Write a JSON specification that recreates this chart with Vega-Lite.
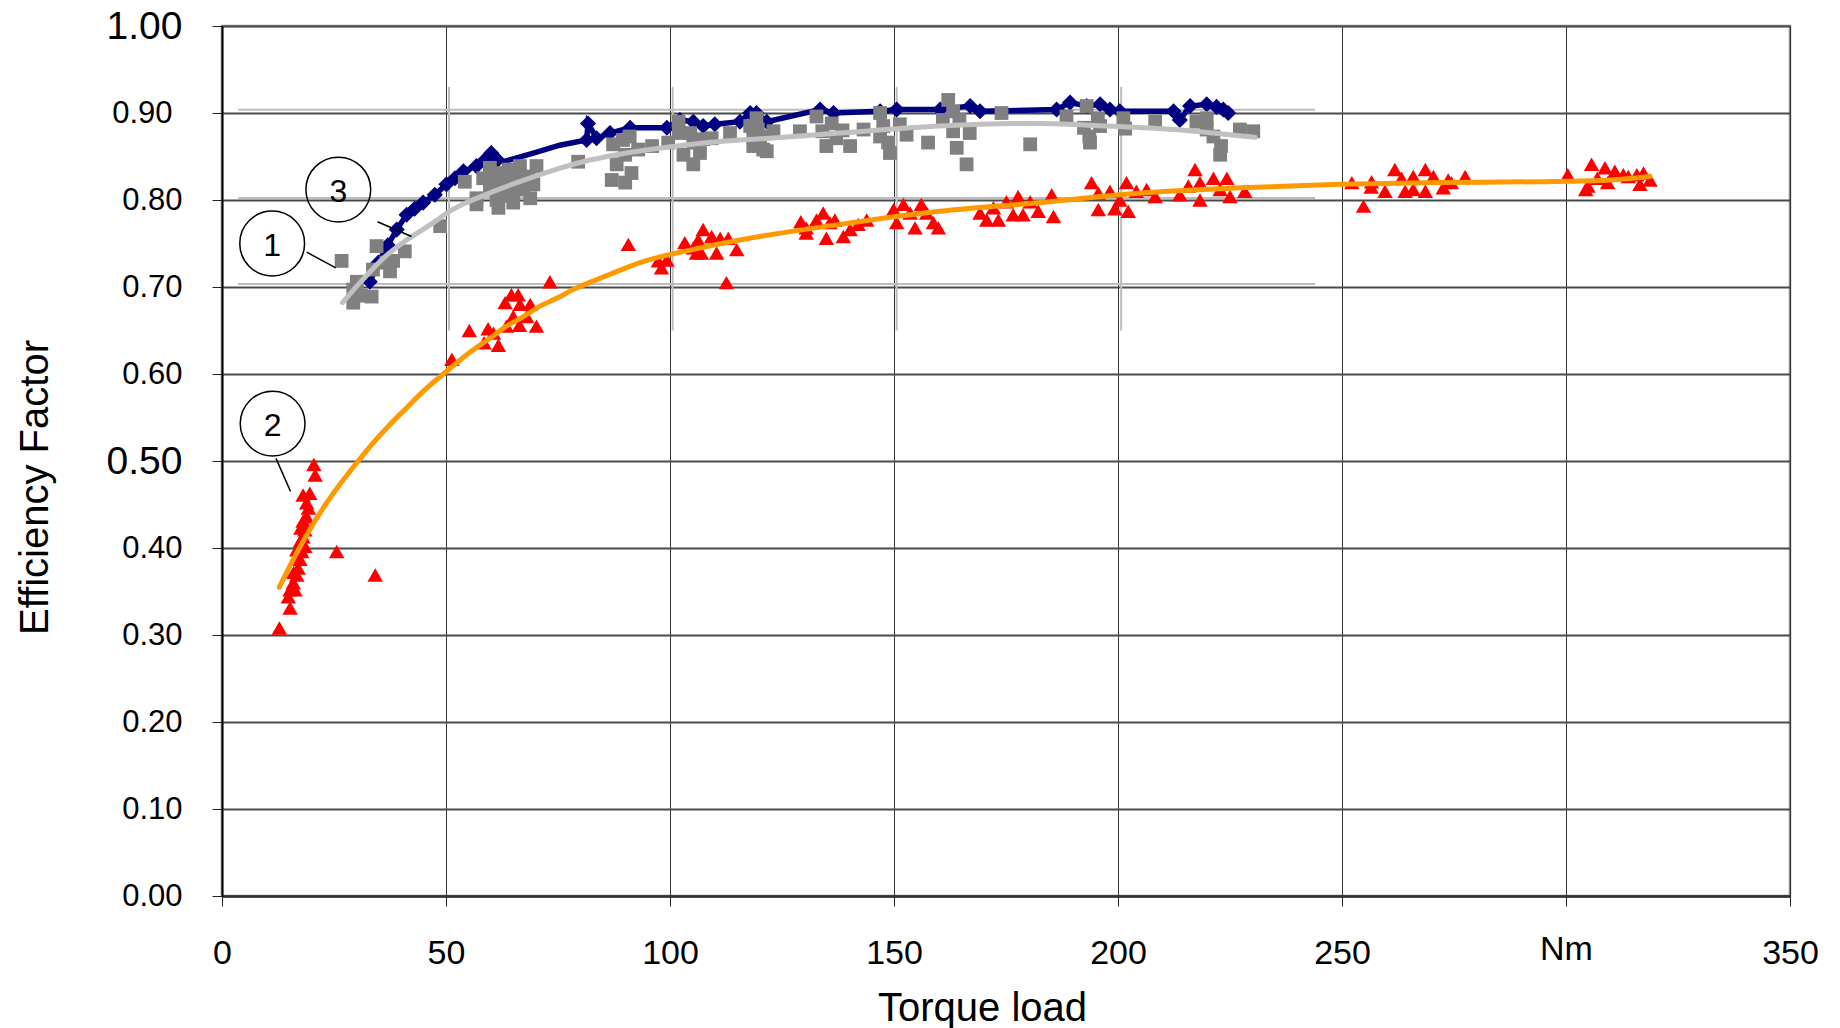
{
  "$schema": "https://vega.github.io/schema/vega-lite/v6.json",
  "width": 1568,
  "height": 870,
  "autosize": {"type": "none"},
  "padding": {"left": 222, "top": 26, "right": 50, "bottom": 132},
  "background": "white",
  "config": {
    "view": {"stroke": "#8a8a8a", "strokeWidth": 2.5},
    "font": "Liberation Sans",
    "axis": {"labelFont": "Liberation Sans", "titleFont": "Liberation Sans", "labelColor": "#000", "titleColor": "#000", "titleFontWeight": "normal", "labelOverlap": false, "labelFlush": false, "labelBound": false}
  },
  "datasets": {
    "faintH": [{"y": 0.9038, "xa": 3.6, "xb": 244}, {"y": 0.8023, "xa": 3.6, "xb": 244}, {"y": 0.7034, "xa": 3.6, "xb": 244}],
    "faintV": [{"x": 50.67, "ya": 0.65, "yb": 0.93}, {"x": 100.6, "ya": 0.65, "yb": 0.93}, {"x": 150.6, "ya": 0.65, "yb": 0.93}, {"x": 200.7, "ya": 0.65, "yb": 0.93}],
    "navyLine": [
      {"x": 33.0, "y": 0.706}, {"x": 34.9, "y": 0.728}, {"x": 37.0, "y": 0.748}, {"x": 39.0, "y": 0.766}, {"x": 41.2, "y": 0.783}, {"x": 43.0, "y": 0.790}, {"x": 44.9, "y": 0.797}, {"x": 47.5, "y": 0.806}, {"x": 50.1, "y": 0.818}, {"x": 52.0, "y": 0.825}, {"x": 53.9, "y": 0.833}, {"x": 56.8, "y": 0.839}, {"x": 58.5, "y": 0.845}, {"x": 60.1, "y": 0.854}, {"x": 61.5, "y": 0.846},
      {"x": 62.8, "y": 0.844}, {"x": 69.5, "y": 0.854}, {"x": 75.4, "y": 0.863},
      {"x": 81.4, "y": 0.869}, {"x": 81.7, "y": 0.888}, {"x": 83.6, "y": 0.871}, {"x": 86.6, "y": 0.877}, {"x": 91.1, "y": 0.883}, {"x": 99.3, "y": 0.883}, {"x": 102.2, "y": 0.892}, {"x": 105.2, "y": 0.890}, {"x": 107.4, "y": 0.885}, {"x": 110.0, "y": 0.887}, {"x": 115.6, "y": 0.890}, {"x": 117.9, "y": 0.900}, {"x": 119.3, "y": 0.900}, {"x": 121.6, "y": 0.890},
      {"x": 133.5, "y": 0.904}, {"x": 136.5, "y": 0.900}, {"x": 146.9, "y": 0.902}, {"x": 150.6, "y": 0.904}, {"x": 160.3, "y": 0.904}, {"x": 167.0, "y": 0.908}, {"x": 169.2, "y": 0.902}, {"x": 186.3, "y": 0.904}, {"x": 189.3, "y": 0.912}, {"x": 193.0, "y": 0.908}, {"x": 196.0, "y": 0.910}, {"x": 198.2, "y": 0.904}, {"x": 200.4, "y": 0.902}, {"x": 212.4, "y": 0.902}, {"x": 213.8, "y": 0.892}, {"x": 216.1, "y": 0.908}, {"x": 219.8, "y": 0.910}, {"x": 222.0, "y": 0.907}, {"x": 223.5, "y": 0.904}, {"x": 224.6, "y": 0.900}
    ],
    "navy": [
      {"x": 33.0, "y": 0.706}, {"x": 34.9, "y": 0.728}, {"x": 37.0, "y": 0.748}, {"x": 39.0, "y": 0.766}, {"x": 41.2, "y": 0.783}, {"x": 43.0, "y": 0.790}, {"x": 44.9, "y": 0.797}, {"x": 47.5, "y": 0.806}, {"x": 50.1, "y": 0.818}, {"x": 52.0, "y": 0.825}, {"x": 53.9, "y": 0.833}, {"x": 56.8, "y": 0.839}, {"x": 58.5, "y": 0.845}, {"x": 60.1, "y": 0.854}, {"x": 61.5, "y": 0.846},
      {"x": 81.4, "y": 0.869}, {"x": 81.7, "y": 0.888}, {"x": 83.6, "y": 0.871}, {"x": 86.6, "y": 0.877}, {"x": 91.1, "y": 0.883}, {"x": 99.3, "y": 0.883}, {"x": 102.2, "y": 0.892}, {"x": 105.2, "y": 0.890}, {"x": 107.4, "y": 0.885}, {"x": 110.0, "y": 0.887}, {"x": 115.6, "y": 0.890}, {"x": 117.9, "y": 0.900}, {"x": 119.3, "y": 0.900}, {"x": 121.6, "y": 0.890},
      {"x": 133.5, "y": 0.904}, {"x": 136.5, "y": 0.900}, {"x": 146.9, "y": 0.902}, {"x": 150.6, "y": 0.904}, {"x": 160.3, "y": 0.904}, {"x": 167.0, "y": 0.908}, {"x": 169.2, "y": 0.902}, {"x": 186.3, "y": 0.904}, {"x": 189.3, "y": 0.912}, {"x": 193.0, "y": 0.908}, {"x": 196.0, "y": 0.910}, {"x": 198.2, "y": 0.904}, {"x": 200.4, "y": 0.902}, {"x": 212.4, "y": 0.902}, {"x": 213.8, "y": 0.892}, {"x": 216.1, "y": 0.908}, {"x": 219.8, "y": 0.910}, {"x": 222.0, "y": 0.907}, {"x": 223.5, "y": 0.904}, {"x": 224.6, "y": 0.900}
    ],
    "gray": [
      {"x": 26.7, "y": 0.730}, {"x": 29.3, "y": 0.697}, {"x": 29.3, "y": 0.682}, {"x": 30.1, "y": 0.706}, {"x": 31.0, "y": 0.690}, {"x": 33.4, "y": 0.689}, {"x": 33.7, "y": 0.720}, {"x": 34.5, "y": 0.747}, {"x": 36.7, "y": 0.728}, {"x": 37.5, "y": 0.718}, {"x": 38.2, "y": 0.730}, {"x": 40.8, "y": 0.741}, {"x": 48.7, "y": 0.770},
      {"x": 54.2, "y": 0.821}, {"x": 56.8, "y": 0.802}, {"x": 56.8, "y": 0.795}, {"x": 58.3, "y": 0.825}, {"x": 59.8, "y": 0.837}, {"x": 59.8, "y": 0.812}, {"x": 60.5, "y": 0.828}, {"x": 61.3, "y": 0.820}, {"x": 61.3, "y": 0.800}, {"x": 61.7, "y": 0.791}, {"x": 62.7, "y": 0.831}, {"x": 63.0, "y": 0.818}, {"x": 63.5, "y": 0.812}, {"x": 64.2, "y": 0.805}, {"x": 65.0, "y": 0.797}, {"x": 65.0, "y": 0.826}, {"x": 65.8, "y": 0.823}, {"x": 66.5, "y": 0.839}, {"x": 67.2, "y": 0.812}, {"x": 68.4, "y": 0.827}, {"x": 68.8, "y": 0.802}, {"x": 70.2, "y": 0.839}, {"x": 62.0, "y": 0.805}, {"x": 64.0, "y": 0.835}, {"x": 66.5, "y": 0.815}, {"x": 69.5, "y": 0.818},
      {"x": 79.5, "y": 0.844}, {"x": 87.0, "y": 0.823}, {"x": 88.1, "y": 0.841}, {"x": 87.3, "y": 0.864}, {"x": 89.5, "y": 0.869}, {"x": 90.0, "y": 0.852}, {"x": 90.0, "y": 0.820}, {"x": 91.0, "y": 0.873}, {"x": 91.4, "y": 0.831}, {"x": 92.9, "y": 0.858}, {"x": 96.0, "y": 0.862},
      {"x": 99.6, "y": 0.866}, {"x": 101.9, "y": 0.890}, {"x": 102.0, "y": 0.877}, {"x": 103.0, "y": 0.852}, {"x": 104.5, "y": 0.877}, {"x": 105.2, "y": 0.866}, {"x": 105.2, "y": 0.841}, {"x": 106.7, "y": 0.854}, {"x": 107.5, "y": 0.870}, {"x": 109.3, "y": 0.871}, {"x": 113.4, "y": 0.877},
      {"x": 117.9, "y": 0.885}, {"x": 118.6, "y": 0.862}, {"x": 118.6, "y": 0.871}, {"x": 119.3, "y": 0.894}, {"x": 119.6, "y": 0.881}, {"x": 120.1, "y": 0.873}, {"x": 120.8, "y": 0.858}, {"x": 121.6, "y": 0.856}, {"x": 123.1, "y": 0.879}, {"x": 129.0, "y": 0.879},
      {"x": 132.7, "y": 0.896}, {"x": 134.0, "y": 0.879}, {"x": 134.9, "y": 0.862}, {"x": 136.1, "y": 0.888}, {"x": 137.1, "y": 0.871}, {"x": 138.5, "y": 0.880}, {"x": 140.2, "y": 0.862}, {"x": 143.2, "y": 0.881},
      {"x": 146.9, "y": 0.900}, {"x": 147.6, "y": 0.885}, {"x": 146.9, "y": 0.873}, {"x": 148.7, "y": 0.866}, {"x": 149.1, "y": 0.854}, {"x": 151.3, "y": 0.887}, {"x": 152.8, "y": 0.875}, {"x": 157.6, "y": 0.866},
      {"x": 160.9, "y": 0.892}, {"x": 162.1, "y": 0.915}, {"x": 163.2, "y": 0.902}, {"x": 163.2, "y": 0.879}, {"x": 164.0, "y": 0.860}, {"x": 164.6, "y": 0.892}, {"x": 166.2, "y": 0.841}, {"x": 166.9, "y": 0.877}, {"x": 174.0, "y": 0.900}, {"x": 180.4, "y": 0.864},
      {"x": 188.5, "y": 0.896}, {"x": 192.4, "y": 0.883}, {"x": 193.0, "y": 0.908}, {"x": 193.6, "y": 0.873}, {"x": 193.75, "y": 0.866}, {"x": 195.5, "y": 0.894}, {"x": 196.0, "y": 0.885}, {"x": 201.2, "y": 0.894}, {"x": 201.6, "y": 0.882}, {"x": 208.3, "y": 0.890},
      {"x": 217.5, "y": 0.890}, {"x": 219.8, "y": 0.894}, {"x": 219.8, "y": 0.881}, {"x": 221.3, "y": 0.873}, {"x": 223.0, "y": 0.862}, {"x": 222.8, "y": 0.852}, {"x": 227.2, "y": 0.881}, {"x": 230.2, "y": 0.879}
    ],
    "grayTrend": [
      {"x": 26.9, "y": 0.682}, {"x": 30.8, "y": 0.705}, {"x": 36.0, "y": 0.733}, {"x": 41.2, "y": 0.754}, {"x": 47.2, "y": 0.774}, {"x": 50.2, "y": 0.785}, {"x": 54.6, "y": 0.797}, {"x": 58.3, "y": 0.805}, {"x": 65.8, "y": 0.820}, {"x": 73.2, "y": 0.833}, {"x": 80.6, "y": 0.844}, {"x": 88.1, "y": 0.852}, {"x": 95.5, "y": 0.858}, {"x": 103.0, "y": 0.863}, {"x": 110.4, "y": 0.867}, {"x": 122.3, "y": 0.871}, {"x": 137.9, "y": 0.877}, {"x": 160.3, "y": 0.885}, {"x": 182.6, "y": 0.888}, {"x": 197.5, "y": 0.885}, {"x": 212.4, "y": 0.881}, {"x": 230.6, "y": 0.872}
    ],
    "red": [
      {"x": 12.8, "y": 0.308}, {"x": 15.2, "y": 0.331}, {"x": 14.8, "y": 0.344}, {"x": 15.2, "y": 0.352}, {"x": 15.9, "y": 0.360}, {"x": 16.3, "y": 0.352}, {"x": 16.7, "y": 0.369}, {"x": 17.0, "y": 0.377}, {"x": 16.0, "y": 0.372}, {"x": 17.4, "y": 0.387}, {"x": 16.8, "y": 0.390}, {"x": 17.8, "y": 0.396}, {"x": 16.7, "y": 0.398}, {"x": 18.5, "y": 0.402}, {"x": 17.5, "y": 0.408}, {"x": 18.1, "y": 0.413}, {"x": 18.5, "y": 0.421}, {"x": 17.6, "y": 0.423}, {"x": 18.1, "y": 0.431}, {"x": 18.9, "y": 0.436}, {"x": 19.3, "y": 0.446}, {"x": 18.9, "y": 0.452}, {"x": 18.1, "y": 0.461}, {"x": 19.6, "y": 0.463}, {"x": 20.8, "y": 0.484}, {"x": 20.5, "y": 0.496}, {"x": 25.6, "y": 0.396}, {"x": 34.2, "y": 0.369},
      {"x": 51.3, "y": 0.617}, {"x": 55.2, "y": 0.650}, {"x": 58.5, "y": 0.636}, {"x": 59.4, "y": 0.652}, {"x": 61.7, "y": 0.633}, {"x": 60.6, "y": 0.647}, {"x": 63.2, "y": 0.682}, {"x": 63.5, "y": 0.655}, {"x": 64.6, "y": 0.691}, {"x": 66.1, "y": 0.691}, {"x": 66.5, "y": 0.680}, {"x": 65.0, "y": 0.666}, {"x": 66.4, "y": 0.656}, {"x": 68.0, "y": 0.666}, {"x": 68.8, "y": 0.680}, {"x": 70.2, "y": 0.655}, {"x": 73.2, "y": 0.706},
      {"x": 90.7, "y": 0.749}, {"x": 98.1, "y": 0.722}, {"x": 99.3, "y": 0.731}, {"x": 97.4, "y": 0.730}, {"x": 103.3, "y": 0.751}, {"x": 106.3, "y": 0.754}, {"x": 107.4, "y": 0.766}, {"x": 109.3, "y": 0.758}, {"x": 111.2, "y": 0.756}, {"x": 113.0, "y": 0.756}, {"x": 114.9, "y": 0.743}, {"x": 105.9, "y": 0.739}, {"x": 107.0, "y": 0.739}, {"x": 110.4, "y": 0.739}, {"x": 105.2, "y": 0.745}, {"x": 112.6, "y": 0.705},
      {"x": 129.2, "y": 0.775}, {"x": 130.4, "y": 0.768}, {"x": 132.7, "y": 0.777}, {"x": 134.2, "y": 0.785}, {"x": 135.7, "y": 0.774}, {"x": 136.8, "y": 0.777}, {"x": 134.9, "y": 0.756}, {"x": 130.4, "y": 0.762}, {"x": 138.7, "y": 0.758}, {"x": 140.2, "y": 0.766}, {"x": 142.0, "y": 0.772}, {"x": 143.9, "y": 0.777},
      {"x": 149.9, "y": 0.789}, {"x": 150.6, "y": 0.774}, {"x": 152.1, "y": 0.795}, {"x": 153.6, "y": 0.785}, {"x": 154.7, "y": 0.768}, {"x": 156.1, "y": 0.795}, {"x": 157.3, "y": 0.785}, {"x": 158.8, "y": 0.774}, {"x": 159.9, "y": 0.768},
      {"x": 169.2, "y": 0.785}, {"x": 170.7, "y": 0.777}, {"x": 172.2, "y": 0.791}, {"x": 173.3, "y": 0.777}, {"x": 175.1, "y": 0.798}, {"x": 176.6, "y": 0.783}, {"x": 177.7, "y": 0.804}, {"x": 178.8, "y": 0.783}, {"x": 180.4, "y": 0.798}, {"x": 182.2, "y": 0.787}, {"x": 185.2, "y": 0.806}, {"x": 185.6, "y": 0.781},
      {"x": 194.1, "y": 0.820}, {"x": 195.6, "y": 0.808}, {"x": 195.6, "y": 0.789}, {"x": 198.2, "y": 0.810}, {"x": 199.3, "y": 0.790}, {"x": 200.4, "y": 0.800}, {"x": 201.9, "y": 0.820}, {"x": 202.3, "y": 0.787}, {"x": 204.1, "y": 0.810}, {"x": 206.4, "y": 0.812}, {"x": 208.3, "y": 0.804},
      {"x": 213.8, "y": 0.806}, {"x": 215.7, "y": 0.816}, {"x": 217.2, "y": 0.835}, {"x": 218.3, "y": 0.800}, {"x": 218.3, "y": 0.820}, {"x": 221.3, "y": 0.825}, {"x": 222.8, "y": 0.812}, {"x": 224.3, "y": 0.825}, {"x": 225.0, "y": 0.804}, {"x": 228.3, "y": 0.810},
      {"x": 252.2, "y": 0.820}, {"x": 254.8, "y": 0.793}, {"x": 256.6, "y": 0.821}, {"x": 256.5, "y": 0.815}, {"x": 259.6, "y": 0.810}, {"x": 261.8, "y": 0.835}, {"x": 263.3, "y": 0.825}, {"x": 264.1, "y": 0.810}, {"x": 265.9, "y": 0.827}, {"x": 265.9, "y": 0.812}, {"x": 268.6, "y": 0.835}, {"x": 268.6, "y": 0.810}, {"x": 270.4, "y": 0.827}, {"x": 272.6, "y": 0.814}, {"x": 273.7, "y": 0.823}, {"x": 274.4, "y": 0.820}, {"x": 277.5, "y": 0.827},
      {"x": 300.4, "y": 0.829}, {"x": 305.7, "y": 0.841}, {"x": 304.9, "y": 0.816}, {"x": 308.7, "y": 0.837}, {"x": 307.0, "y": 0.825}, {"x": 310.9, "y": 0.833}, {"x": 312.8, "y": 0.829}, {"x": 313.9, "y": 0.827}, {"x": 315.8, "y": 0.829}, {"x": 317.3, "y": 0.831}, {"x": 316.5, "y": 0.818}, {"x": 318.75, "y": 0.823}, {"x": 309.3, "y": 0.820}, {"x": 304.4, "y": 0.812}
    ],
    "orangeTrend": [
      {"x": 12.8, "y": 0.355}, {"x": 15.9, "y": 0.387}, {"x": 18.9, "y": 0.415}, {"x": 22.6, "y": 0.446}, {"x": 26.3, "y": 0.473}, {"x": 30.1, "y": 0.498}, {"x": 33.8, "y": 0.521}, {"x": 37.5, "y": 0.542}, {"x": 41.2, "y": 0.561}, {"x": 44.9, "y": 0.580}, {"x": 48.7, "y": 0.597}, {"x": 52.4, "y": 0.613}, {"x": 56.1, "y": 0.628}, {"x": 59.8, "y": 0.641}, {"x": 63.5, "y": 0.655}, {"x": 67.3, "y": 0.666}, {"x": 71.0, "y": 0.678}, {"x": 74.7, "y": 0.687}, {"x": 78.4, "y": 0.697}, {"x": 85.9, "y": 0.713}, {"x": 93.3, "y": 0.728}, {"x": 105.0, "y": 0.743}, {"x": 115.6, "y": 0.754}, {"x": 137.9, "y": 0.772}, {"x": 160.3, "y": 0.787}, {"x": 182.6, "y": 0.797}, {"x": 205.0, "y": 0.808}, {"x": 227.2, "y": 0.814}, {"x": 249.6, "y": 0.818}, {"x": 271.9, "y": 0.820}, {"x": 294.2, "y": 0.821}, {"x": 310.0, "y": 0.823}, {"x": 318.75, "y": 0.827}
    ],
    "leaders": [{"x": 18.9, "y": 0.740, "x2": 25.4, "y2": 0.722}, {"x": 34.7, "y": 0.775, "x2": 42.3, "y2": 0.758}, {"x": 12.05, "y": 0.503, "x2": 15.3, "y2": 0.465}],
    "labels": [{"x": 11.2, "y": 0.750, "label": "1"}, {"x": 11.3, "y": 0.543, "label": "2"}, {"x": 25.96, "y": 0.812, "label": "3"}]
  },
  "layer": [
    {
      "data": {"name": "faintH"},
      "mark": {"type": "rule", "color": "#bdbdbd", "strokeWidth": 2},
      "encoding": {
        "x": {"field": "xa", "type": "quantitative", "scale": {"domain": [0, 350], "nice": false, "zero": false},
          "axis": {"title": "Torque load", "values": [0, 50, 100, 150, 200, 250, 300, 350], "grid": true, "gridColor": "#333333", "gridWidth": 1, "tickSize": 10, "tickColor": "#222", "tickWidth": 1, "domainColor": "#333333", "domainWidth": 2.5, "labelFontSize": 34, "labelBaseline": "alphabetic", "labelPadding": {"condition": {"test": "datum.value == 300", "value": 53}, "value": 57}, "labelExpr": "datum.value == 300 ? 'Nm' : datum.label", "titleFontSize": 40, "titleX": 760, "titleY": 124, "titleBaseline": "alphabetic", "titleAnchor": null, "titleAlign": "center"}},
        "x2": {"field": "xb"},
        "y": {"field": "y", "type": "quantitative", "scale": {"domain": [0, 1], "nice": false, "zero": true},
          "axis": {"title": "Efficiency Factor", "values": [0, 0.1, 0.2, 0.3, 0.4, 0.5, 0.6, 0.7, 0.8, 0.9, 1], "format": ".2f", "grid": true, "gridColor": "#4a4a4a", "gridWidth": 1.8, "tickSize": 10, "tickColor": "#222", "domainColor": "#000", "domainWidth": 2, "labelFontSize": {"condition": {"test": "datum.value == 1 || datum.value == 0.5", "value": 39}, "value": 31}, "labelPadding": {"condition": {"test": "datum.value == 0.9", "value": 40}, "value": 30}, "labelBaseline": "middle", "titleFontSize": 40, "titleX": -175, "titleY": 461, "titleAngle": -90, "titleBaseline": "alphabetic", "titleAlign": "center", "titleAnchor": null}}
      }
    },
    {
      "data": {"name": "faintV"},
      "mark": {"type": "rule", "color": "#bdbdbd", "strokeWidth": 2},
      "encoding": {"x": {"field": "x", "type": "quantitative"}, "y": {"field": "ya", "type": "quantitative"}, "y2": {"field": "yb"}}
    },
    {
      "data": {"name": "navyLine"},
      "mark": {"type": "line", "color": "#000080", "strokeWidth": 5.5},
      "encoding": {"x": {"field": "x", "type": "quantitative"}, "y": {"field": "y", "type": "quantitative"}, "order": {"field": "x"}}
    },
    {
      "data": {"name": "navy"},
      "mark": {"type": "point", "shape": "diamond", "filled": true, "color": "#000080", "size": 260, "opacity": 1},
      "encoding": {"x": {"field": "x", "type": "quantitative"}, "y": {"field": "y", "type": "quantitative"}}
    },
    {
      "data": {"name": "gray"},
      "mark": {"type": "point", "shape": "square", "filled": true, "color": "#808080", "size": 190, "opacity": 1},
      "encoding": {"x": {"field": "x", "type": "quantitative"}, "y": {"field": "y", "type": "quantitative"}}
    },
    {
      "data": {"name": "grayTrend"},
      "mark": {"type": "line", "color": "#c0c0c0", "strokeWidth": 5, "interpolate": "monotone", "strokeCap": "round"},
      "encoding": {"x": {"field": "x", "type": "quantitative"}, "y": {"field": "y", "type": "quantitative"}}
    },
    {
      "data": {"name": "red"},
      "mark": {"type": "point", "shape": "triangle-up", "filled": true, "color": "#ff0000", "size": 240, "opacity": 1},
      "encoding": {"x": {"field": "x", "type": "quantitative"}, "y": {"field": "y", "type": "quantitative"}}
    },
    {
      "data": {"name": "orangeTrend"},
      "mark": {"type": "line", "color": "#ff9900", "strokeWidth": 5, "interpolate": "monotone", "strokeCap": "round"},
      "encoding": {"x": {"field": "x", "type": "quantitative"}, "y": {"field": "y", "type": "quantitative"}}
    },
    {
      "data": {"name": "leaders"},
      "mark": {"type": "rule", "color": "#000", "strokeWidth": 1.5},
      "encoding": {"x": {"field": "x", "type": "quantitative"}, "y": {"field": "y", "type": "quantitative"}, "x2": {"field": "x2"}, "y2": {"field": "y2"}}
    },
    {
      "data": {"name": "labels"},
      "mark": {"type": "point", "shape": "circle", "filled": false, "stroke": "#000", "strokeWidth": 1.5, "size": 4200, "opacity": 1},
      "encoding": {"x": {"field": "x", "type": "quantitative"}, "y": {"field": "y", "type": "quantitative"}}
    },
    {
      "data": {"name": "labels"},
      "mark": {"type": "text", "font": "Liberation Sans", "fontSize": 32, "color": "#000", "baseline": "alphabetic", "align": "center", "dy": 12},
      "encoding": {"x": {"field": "x", "type": "quantitative"}, "y": {"field": "y", "type": "quantitative"}, "text": {"field": "label"}}
    }
  ]
}
